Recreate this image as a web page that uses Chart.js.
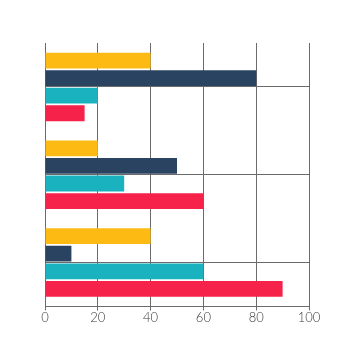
<!DOCTYPE html>
<html>
<head>
<meta charset="utf-8">
<script src="https://cdn.jsdelivr.net/npm/chart.js@4"></script>
<style>
  html, body { margin: 0; padding: 0; background: #fff; }
  #wrap { width: 360px; height: 360px; }
</style>
</head>
<body>
<div id="wrap"><canvas id="chart" width="360" height="360"></canvas></div>
<script>
// данные
const categories = ['A', 'B', 'C'];
const yellowValues = [40, 20, 40];
const navyValues = [80, 50, 10];
const tealValues = [20, 30, 60];
const redValues = [15, 60, 90];
const xTicks = [0, 20, 40, 60, 80, 100];

const colors = ['#FDBA12', '#2A4360', '#19B2BE', '#F7224A'];
const series = [yellowValues, navyValues, tealValues, redValues];

const ctx = document.getElementById('chart').getContext('2d');
new Chart(ctx, {
    type: 'bar',
    data: {
        labels: categories,
        datasets: series.map((vals, i) => ({
            data: vals,
            backgroundColor: colors[i],
            borderWidth: 0,
            categoryPercentage: 0.8,
            barPercentage: 0.9
        }))
    },
    options: {
        indexAxis: 'y',
        responsive: false,
        animation: false,
        layout: { padding: { left: 45, right: 51, top: 43, bottom: 34 } },
        plugins: { legend: { display: false }, tooltip: { enabled: false } },
        scales: {
            x: {
                min: 0,
                max: 100,
                afterBuildTicks: axis => { axis.ticks = xTicks.map(v => ({ value: v })); },
                grid: { color: '#6b6b6b', lineWidth: 1, tickLength: 4, drawTicks: true },
                border: { color: '#6b6b6b', width: 1 },
                ticks: {
                    color: '#3a3a3a',
                    padding: 0,
                    font: { family: 'Lato', size: 13, weight: '300' }
                }
            },
            y: {
                grid: { color: '#6b6b6b', lineWidth: 1, offset: false, drawTicks: false },
                border: { display: false },
                ticks: { display: false }
            }
        }
    }
});
</script>
</body>
</html>
